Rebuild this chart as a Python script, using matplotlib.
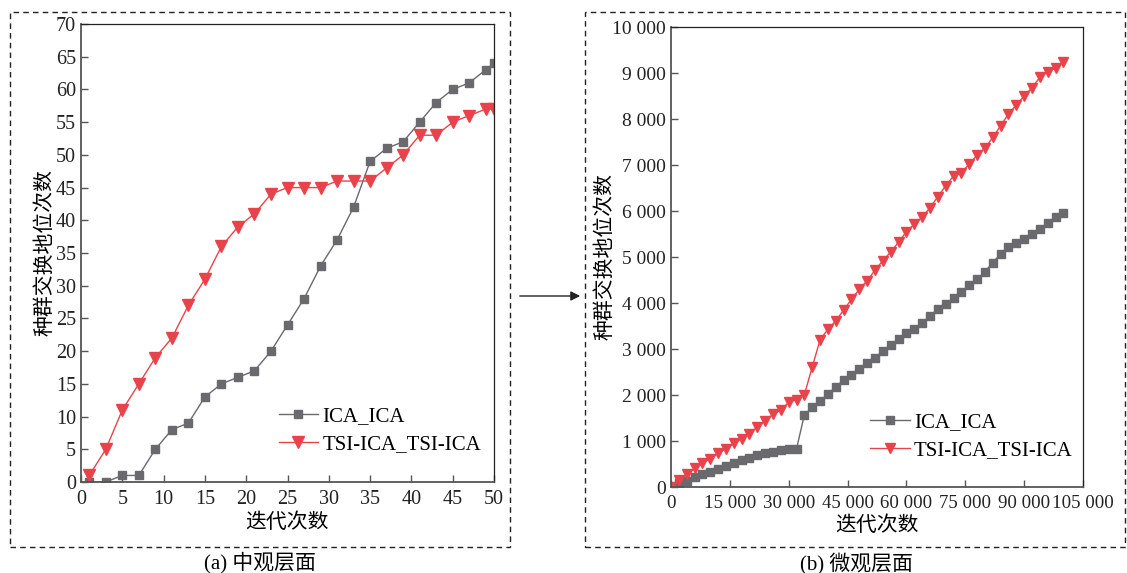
import matplotlib
matplotlib.use('Agg')
from matplotlib import pyplot as plt
from matplotlib.patches import Rectangle, FancyArrowPatch
from matplotlib.ticker import FuncFormatter, MultipleLocator

# (a) meso level
iter_a = [1, 3, 5, 7, 9, 11, 13, 15, 17, 19, 21, 23, 25, 27, 29, 31, 33, 35, 37, 39, 41, 43, 45, 47, 49, 50]
ica_a = [0, 0, 1, 1, 5, 8, 9, 13, 15, 16, 17, 20, 24, 28, 33, 37, 42, 49, 51, 52, 55, 58, 60, 61, 63, 64]
tsi_a = [1, 5, 11, 15, 19, 22, 27, 31, 36, 39, 41, 44, 45, 45, 45, 46, 46, 46, 48, 50, 53, 53, 55, 56, 57, 57]

# (b) micro level, sampled every 2000 iterations
iter_b = list(range(0, 100001, 2000))
ica_b = [0, 80, 140, 210, 275, 335, 390, 455, 515, 580, 640, 690, 730, 770, 800, 825, 835,
         1570, 1730, 1875, 2020, 2180, 2325, 2435, 2560, 2690, 2810, 2960, 3085, 3210, 3340,
         3435, 3570, 3710, 3880, 3980, 4100, 4240, 4385, 4515, 4680, 4880, 5065, 5210, 5310,
         5390, 5500, 5600, 5730, 5860, 5960]
tsi_b = [0, 150, 275, 405, 520, 615, 730, 835, 950, 1050, 1160, 1310, 1435, 1580, 1675, 1840, 1900,
         2010, 2610, 3200, 3430, 3610, 3850, 4080, 4300, 4485, 4715, 4920, 5110, 5325, 5550,
         5715, 5865, 6070, 6310, 6550, 6760, 6835, 7020, 7215, 7365, 7600, 7850, 8110, 8305,
         8500, 8680, 8905, 9030, 9100, 9245]

labels = ['ICA_ICA', 'TSI-ICA_TSI-ICA']
gray = '#6a6a6e'
red = '#e8434b'

plt.rcParams['font.family'] = ['Liberation Serif', 'Noto Sans CJK SC']
plt.rcParams['font.size'] = 15
cjk = ['Noto Sans CJK SC']

W, H = 1127, 573
fig = plt.figure(figsize=(W / 100, H / 100), dpi=100)

ax1 = fig.add_axes([81 / W, 1 - 482 / H, 413 / W, 458 / H])
ax2 = fig.add_axes([671 / W, 1 - 487 / H, 412 / W, 460 / H])


def style(ax, size):
    for s in ['left', 'bottom']:
        ax.spines[s].set_color('#555555')
        ax.spines[s].set_linewidth(1.3)
    for s in ['top', 'right']:
        ax.spines[s].set_color('#222222')
        ax.spines[s].set_linewidth(0.9)
    ax.tick_params(direction='in', length=5, width=1, color='#555555',
                   labelsize=size, labelcolor='#222222')
    ax.tick_params(axis='x', pad=6)


ax1.plot(iter_a, ica_a, color=gray, lw=1, marker='s', ms=6, label=labels[0])
ax1.plot(iter_a, tsi_a, color=red, lw=1, marker='v', ms=8, label=labels[1])
ax1.set_xlim(0, 50)
ax1.set_ylim(0, 70)
ax1.xaxis.set_major_locator(MultipleLocator(5))
ax1.yaxis.set_major_locator(MultipleLocator(5))
style(ax1, 14.5)
ax1.set_xlabel('迭代次数', family=cjk, fontsize=15, labelpad=1)
ax1.set_ylabel('种群交换地位次数', family=cjk, fontsize=15, labelpad=0.5)
ax1.legend(loc='lower left', bbox_to_anchor=(0.453, 0.038), frameon=False, fontsize=15,
           handlelength=1.9, handletextpad=0.2, labelspacing=0.4, borderpad=0)

ax2.plot(iter_b, ica_b, color=gray, lw=1, marker='s', ms=6, label=labels[0])
ax2.plot(iter_b, tsi_b, color=red, lw=1, marker='v', ms=7.5, label=labels[1])
ax2.set_xlim(0, 105000)
ax2.set_ylim(0, 10000)
ax2.xaxis.set_major_locator(MultipleLocator(15000))
ax2.yaxis.set_major_locator(MultipleLocator(1000))
fmt = FuncFormatter(lambda v, p: f'{int(v):,}'.replace(',', ' '))
ax2.xaxis.set_major_formatter(fmt)
ax2.yaxis.set_major_formatter(fmt)
style(ax2, 14)
ax2.tick_params(axis='x', labelsize=13.6)
ax2.set_xlabel('迭代次数', family=cjk, fontsize=15, labelpad=1)
ax2.set_ylabel('种群交换地位次数', family=cjk, fontsize=15, labelpad=-2.5)
ax2.legend(loc='lower left', bbox_to_anchor=(0.458, 0.036), frameon=False, fontsize=15,
           handlelength=1.9, handletextpad=0.2, labelspacing=0.4, borderpad=0)

# dashed frames round each panel
for x0, x1 in [(10, 510), (585, 1125)]:
    fig.add_artist(Rectangle((x0 / W, 1 - 547 / H), (x1 - x0) / W, 535 / H,
                             transform=fig.transFigure, fill=False, ls=(0, (4, 3)),
                             lw=1, ec='#222222'))

fig.add_artist(FancyArrowPatch((517 / W, 1 - 296 / H), (583 / W, 1 - 296 / H),
                               transform=fig.transFigure, arrowstyle='-|>',
                               mutation_scale=14, lw=1, color='#222222'))

fig.text(260 / W, 1 - 563 / H, '(a) 中观层面', ha='center', va='center', fontsize=15)
fig.text(856 / W, 1 - 563 / H, '(b) 微观层面', ha='center', va='center', fontsize=15)

fig.savefig('out.png', dpi=100)
